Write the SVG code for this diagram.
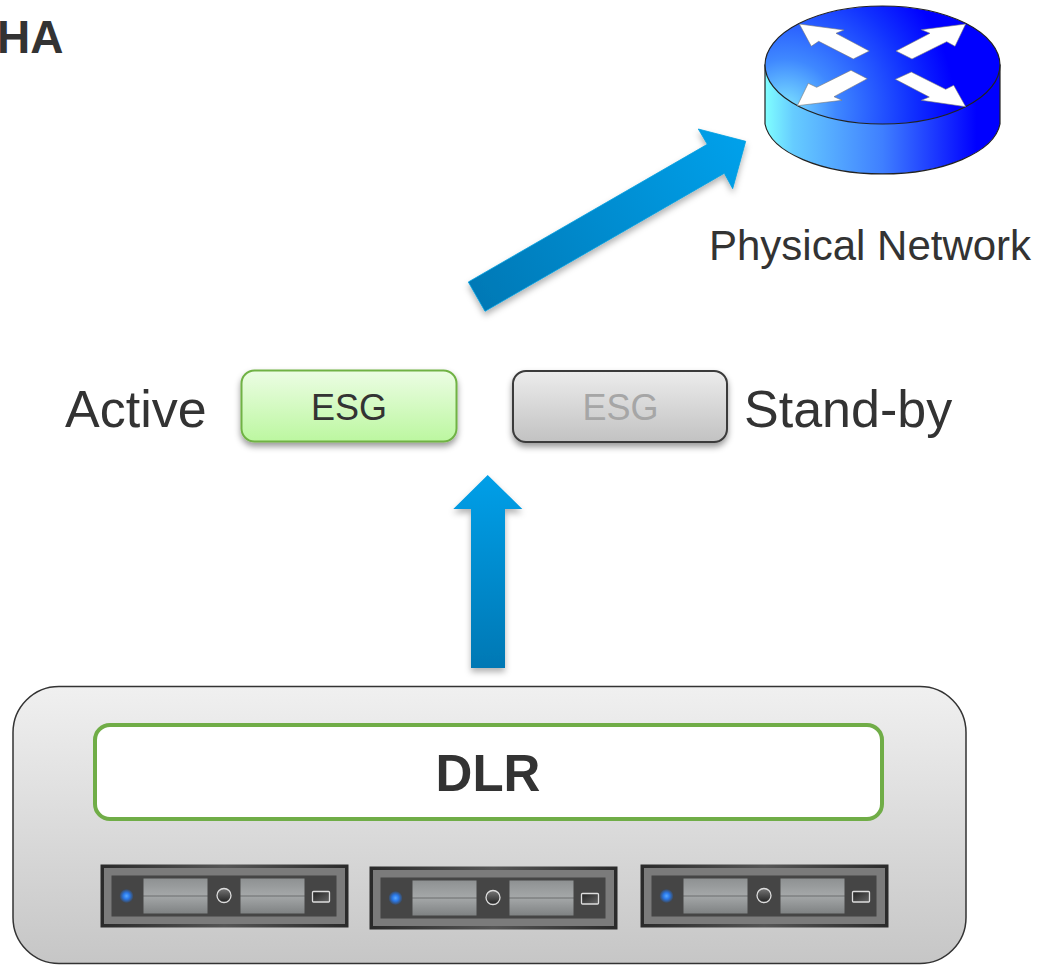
<svg xmlns="http://www.w3.org/2000/svg" width="1039" height="965" viewBox="0 0 1039 965">
<style>
text{font-family:"Liberation Sans",Arial,sans-serif;fill:#333}
.m{text-anchor:middle}
.w{fill:#fff;stroke:#777;stroke-width:.6}
.ln{stroke:#222;stroke-width:1.2}
</style>
<defs>
<linearGradient id="gArrow1" x1="0" y1="0" x2="0" y2="1"><stop offset="0" stop-color="#009fe8"/><stop offset="1" stop-color="#0078b4"/></linearGradient>
<linearGradient id="gArrow2" gradientUnits="userSpaceOnUse" x1="735" y1="135" x2="477" y2="297"><stop offset="0" stop-color="#00a0ea"/><stop offset="1" stop-color="#0079b6"/></linearGradient>
<linearGradient id="gGreen" x1="0" y1="0" x2="0" y2="1"><stop offset="0" stop-color="#ecfde4"/><stop offset="1" stop-color="#bcf7a0"/></linearGradient>
<linearGradient id="gGray" x1="0" y1="0" x2="0" y2="1"><stop offset="0" stop-color="#ececec"/><stop offset="1" stop-color="#c2c2c2"/></linearGradient>
<linearGradient id="gBase" x1="0" y1="0" x2="0" y2="1"><stop offset="0" stop-color="#f0f0f0"/><stop offset="1" stop-color="#c6c6c6"/></linearGradient>
<linearGradient id="gSide" x1="0" y1="0" x2="1" y2="0"><stop offset="0" stop-color="#80ffff"/><stop offset=".12" stop-color="#66ccff"/><stop offset=".5" stop-color="#3f7fff"/><stop offset=".9" stop-color="#0000ff"/></linearGradient>
<radialGradient id="gTop" gradientUnits="userSpaceOnUse" cx="785" cy="110" r="170"><stop offset="0" stop-color="#80e8ff"/><stop offset=".3" stop-color="#3f88ff"/><stop offset=".75" stop-color="#1030ff"/><stop offset="1" stop-color="#0000ff"/></radialGradient>
<linearGradient id="gPanel" x1="0" y1="0" x2="0" y2="1"><stop offset="0" stop-color="#8e9192"/><stop offset=".47" stop-color="#a4a7a8"/><stop offset=".5" stop-color="#6e7071"/><stop offset=".53" stop-color="#a2a5a6"/><stop offset="1" stop-color="#7f8283"/></linearGradient>
<linearGradient id="gFrame" x1="0" y1="0" x2="1" y2="0"><stop offset="0" stop-color="#2a2a2a"/><stop offset=".5" stop-color="#555"/><stop offset="1" stop-color="#2a2a2a"/></linearGradient>
<linearGradient id="gKnob" x1="0" y1="0" x2="0" y2="1"><stop offset="0" stop-color="#777"/><stop offset="1" stop-color="#222"/></linearGradient>
<linearGradient id="gPort" x1="0" y1="0" x2="1" y2="1"><stop offset="0" stop-color="#222"/><stop offset="1" stop-color="#666"/></linearGradient>
<radialGradient id="gLed"><stop offset="0" stop-color="#58a8ff"/><stop offset=".45" stop-color="#2a78e8"/><stop offset="1" stop-color="#3f4650"/></radialGradient>
<filter id="sh" x="-20%" y="-20%" width="140%" height="150%"><feDropShadow dx="0" dy="4" stdDeviation="3" flood-color="#000" flood-opacity=".4"/></filter>
<filter id="shA" x="-20%" y="-20%" width="140%" height="140%"><feDropShadow dx="0" dy="4" stdDeviation="3" flood-color="#000" flood-opacity=".3"/></filter>
<g id="server">
<rect x="0" y="0" width="248" height="63" fill="url(#gFrame)"/>
<rect x="3.500" y="3.500" width="241" height="56" fill="#7b7b7b"/>
<rect x="11" y="11" width="225" height="41" fill="#454545"/>
<rect x="43" y="14" width="64" height="35" fill="url(#gPanel)"/>
<rect x="140" y="14" width="64" height="35" fill="url(#gPanel)"/>
<circle cx="26" cy="31.500" r="7" fill="url(#gLed)"/>
<circle cx="123.500" cy="31" r="7" fill="url(#gKnob)" stroke="#ddd" stroke-width="1.300"/>
<rect x="212" y="27" width="17" height="10.500" rx="1" fill="url(#gPort)" stroke="#ddd" stroke-width="1.300"/>
</g>
</defs>
<rect width="1039" height="965" fill="#fff"/>

<text id="title" x="-3" y="53" font-size="46" font-weight="700">HA</text>

<g id="connectors">
<polygon id="arrow-to-network" fill="url(#gArrow2)" stroke="#00a0e0" stroke-width=".8" filter="url(#shA)" points="468.300,282 485,311.300 724.300,173.300 732.700,188.700 745.700,141.300 698.300,129 707.300,144.300"/>
<polygon id="arrow-to-esg" fill="url(#gArrow1)" filter="url(#shA)" points="487.700,475 522.300,509 505,509 505,668 471,668 471,509 453.300,509"/>
</g>

<g id="router">
<path d="M765 65V124A118 55 0 0 0 1000 124V65Z" fill="url(#gSide)" class="ln"/>
<ellipse cx="882.500" cy="65" rx="117.500" ry="59" fill="url(#gTop)" class="ln"/>
<polygon class="w" points="799.300,24 844,30 836,33.300 869.300,51 853.300,59 818.700,41.300 811.300,46.300"/>
<polygon class="w" points="965.700,24 955,46.300 946.700,41.700 912,59 896,51 930,33.300 921.300,29.700"/>
<polygon class="w" points="797.300,105.700 808.300,83.300 816.700,87.300 851,70.300 867.300,78.700 834,96.700 842,100.300"/>
<polygon class="w" points="965.700,106.700 921.300,100.300 929.300,97 895.300,79.300 911.300,72 945.700,89.300 953.700,85.300"/>
</g>
<text id="label-network" x="709" y="260" font-size="42">Physical Network</text>

<text id="label-active" x="65" y="427" font-size="52">Active</text>
<g id="esg-active">
<rect x="241.500" y="370.500" width="215" height="71" rx="13" fill="url(#gGreen)" stroke="#70b244" stroke-width="2" filter="url(#sh)"/>
<text class="m" x="349" y="420" font-size="36">ESG</text>
</g>
<g id="esg-standby">
<rect x="513" y="371" width="214" height="71" rx="13" fill="url(#gGray)" stroke="#3a3a3a" stroke-width="2" filter="url(#sh)"/>
<text class="m" x="620.500" y="420" font-size="36" style="fill:#a6a6a6">ESG</text>
</g>
<text id="label-standby" x="744" y="427" font-size="52">Stand-by</text>

<g id="host-cluster">
<rect x="13" y="686.500" width="953" height="277" rx="46" fill="url(#gBase)" stroke="#333" stroke-width="1.500"/>
</g>
<g id="dlr">
<rect x="95" y="725" width="787" height="94" rx="15" fill="#fff" stroke="#70ad47" stroke-width="4"/>
<text class="m" x="488" y="791" font-size="51" font-weight="700">DLR</text>
</g>
<g id="server-1"><use href="#server" x="100.500" y="864.500"/></g>
<g id="server-2"><use href="#server" x="369.500" y="866.500"/></g>
<g id="server-3"><use href="#server" x="640.500" y="864.500"/></g>
</svg>
